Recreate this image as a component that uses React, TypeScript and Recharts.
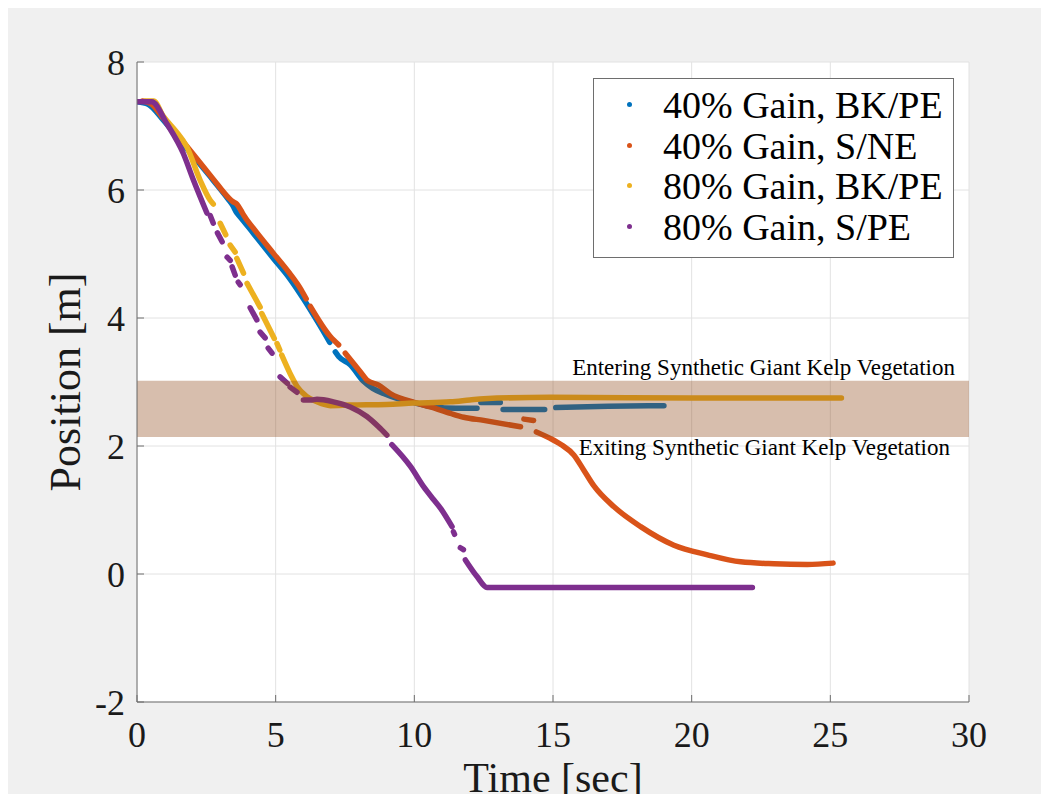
import React from "react";
import {
  ComposedChart,
  Line,
  XAxis,
  YAxis,
  CartesianGrid,
  ReferenceArea,
  ReferenceLine,
  Legend,
} from "recharts";

const SERIF = "'Liberation Serif', 'Times New Roman', Times, serif";
const AXIS_GRAY = "#6e6e6e";
const TEXT = "#1a1a1a";

const xTicks = [0, 5, 10, 15, 20, 25, 30];
const yTicks = [-2, 0, 2, 4, 6, 8];

const seriesNames = [
  "40% Gain, BK/PE",
  "40% Gain, S/NE",
  "80% Gain, BK/PE",
  "80% Gain, S/PE",
];
const seriesColors = ["#0072BD", "#D95319", "#EDB120", "#7E2F8E"];

// kelp vegetation band [m]
const bandLow = 2.14;
const bandHigh = 3.02;
const enteringText = "Entering Synthetic Giant Kelp Vegetation";
const exitingText = "Exiting Synthetic Giant Kelp Vegetation";

const blueT = [0, 0.4, 0.95, 1.5, 2.1, 2.75, 3.3, 3.45, 3.6, 3.72, 4.2, 4.92, 5.5, 6.0, 6.5, 6.95, 7.05, 7.15, 7.27, 7.69, 8.17, 8.5, 8.89, 9.4, 9.86, 10.7, 11.5, 12.26, 12.33, 12.4, 13.1, 13.15, 13.2, 14.7, 14.9, 15.1, 17, 19.0];
const blueY = [7.38, 7.34, 7.09, 6.8, 6.49, 6.15, 5.85, 5.76, 5.64, 5.58, 5.32, 4.93, 4.62, 4.3, 3.95, 3.62, null, 3.47, 3.4, 3.27, 3.01, 2.9, 2.82, 2.74, 2.69, 2.61, 2.59, 2.59, null, 2.68, 2.68, null, 2.57, 2.57, null, 2.6, 2.62, 2.63];

const orangeT = [0.2, 0.5, 0.95, 1.5, 2.1, 2.75, 3.3, 3.45, 3.6, 3.75, 3.84, 4.2, 4.92, 5.5, 5.92, 6.1, 6.15, 6.25, 6.97, 7.27, 7.4, 7.51, 8.05, 8.29, 8.71, 9.13, 10.1, 10.58, 11.3, 11.78, 12.5, 13.83, 13.9, 13.95, 14.3, 14.35, 14.4, 14.9, 15.3, 15.75, 16.1, 16.47, 17.2, 18.16, 19.36, 20.57, 21.77, 22.97, 24.17, 25.1];
const orangeY = [7.39, 7.35, 7.12, 6.84, 6.52, 6.17, 5.88, 5.82, 5.78, 5.68, 5.61, 5.4, 5.01, 4.7, 4.44, 4.3, null, 4.18, 3.71, 3.58, null, 3.45, 3.16, 3.03, 2.95, 2.82, 2.67, 2.61, 2.51, 2.45, 2.4, 2.3, null, 2.42, 2.4, null, 2.22, 2.12, 2.02, 1.86, 1.63, 1.38, 1.05, 0.74, 0.45, 0.3, 0.19, 0.16, 0.15, 0.17];

const yellowT = [0.3, 0.6, 0.95, 1.4, 1.79, 2.27, 2.64, 2.75, 2.85, 3.0, 3.2, 3.28, 3.36, 3.54, 3.57, 3.6, 3.84, 3.9, 3.97, 4.44, 4.47, 4.5, 4.95, 5.0, 5.05, 5.15, 5.18, 5.22, 5.58, 5.77, 6.1, 6.49, 6.97, 7.69, 9.0, 9.97, 11.3, 12.0, 12.5, 14.9, 20, 25.4];
const yellowY = [7.39, 7.39, 7.15, 6.92, 6.68, 6.16, 5.84, 5.78, null, 5.48, 5.3, null, 5.14, 5.03, null, 4.93, 4.7, null, 4.54, 4.17, null, 4.07, 3.68, null, 3.6, 3.5, null, 3.42, 3.08, 2.93, 2.78, 2.69, 2.63, 2.64, 2.65, 2.67, 2.69, 2.72, 2.74, 2.76, 2.75, 2.75];

const purpleT = [0, 0.53, 1.07, 1.67, 2.03, 2.52, 2.55, 2.64, 2.75, 2.8, 2.9, 3.07, 3.15, 3.25, 3.36, 3.4, 3.43, 3.54, 3.6, 3.65, 3.72, 3.9, 4.08, 4.32, 4.38, 4.44, 4.62, 4.68, 4.73, 4.87, 5.0, 5.16, 5.42, 5.47, 5.52, 5.77, 5.9, 6.0, 6.3, 6.49, 7.08, 7.69, 8.29, 8.71, 9.01, 9.1, 9.19, 9.86, 10.34, 10.7, 10.94, 11.36, 11.39, 11.41, 11.45, 11.55, 11.66, 11.77, 11.8, 11.84, 12.26, 12.62, 15, 18, 22.19];
const purpleY = [7.38, 7.38, 7.04, 6.57, 6.16, 5.64, null, 5.6, 5.48, null, 5.33, 5.19, null, 4.95, 4.9, null, 4.8, 4.67, null, 4.56, 4.52, null, 4.16, 3.97, null, 3.78, 3.69, null, 3.53, 3.45, null, 3.08, 2.98, null, 2.92, 2.84, null, 2.72, 2.72, 2.73, 2.69, 2.61, 2.46, 2.3, 2.17, null, 2.02, 1.68, 1.36, 1.16, 1.03, 0.74, null, 0.66, 0.62, null, 0.41, 0.38, null, 0.22, -0.04, -0.21, -0.21, -0.21, -0.21];

const toPoints = (ts: number[], ys: (number | null)[]) =>
  ts.map((t, i) => ({ t, y: ys[i] }));

const tracks = [
  toPoints(blueT, blueY),
  toPoints(orangeT, orangeY),
  toPoints(yellowT, yellowY),
  toPoints(purpleT, purpleY),
];

const LegendBox = ({ payload }: { payload?: Array<{ value: string; color: string }> }) => (
  <div
    style={{
      width: 361,
      height: 180,
      boxSizing: "border-box",
      border: `1px solid ${AXIS_GRAY}`,
      background: "#fff",
      paddingTop: 6,
      fontFamily: SERIF,
      fontSize: 38,
      color: "#000",
    }}
  >
    {(payload || []).map((p) => (
      <div
        key={p.value}
        style={{
          position: "relative",
          height: 40.5,
          lineHeight: "40.5px",
          paddingLeft: 69,
          whiteSpace: "nowrap",
        }}
      >
        <span
          style={{
            position: "absolute",
            left: 33,
            top: 17,
            width: 5,
            height: 5,
            borderRadius: "50%",
            background: p.color,
          }}
        />
        {p.value}
      </div>
    ))}
  </div>
);

const bandLabel = (text: string, above: boolean, right: number) => (props: any) => {
  const { x, y, width } = props.viewBox;
  return (
    <text
      x={x + width - right}
      y={above ? y - 6 : y + 18}
      textAnchor="end"
      fontFamily={SERIF}
      fontSize={23}
      fill="#000"
    >
      {text}
    </text>
  );
};

const xTitle = (props: any) => {
  const { x, y, width } = props.viewBox;
  return (
    <text x={x + width / 2} y={y + 90} textAnchor="middle" fontFamily={SERIF} fontSize={42} fill={TEXT}>
      Time [sec]
    </text>
  );
};

const yTitle = (props: any) => {
  const { x, y, height } = props.viewBox;
  const cx = x + 72;
  const cy = y + height / 2;
  return (
    <text
      x={cx}
      y={cy}
      transform={`rotate(-90, ${cx}, ${cy})`}
      textAnchor="middle"
      fontFamily={SERIF}
      fontSize={44}
      fill={TEXT}
    >
      Position [m]
    </text>
  );
};

const tickStyle = { fontFamily: SERIF, fontSize: 36, fill: TEXT };

export default function App() {
  return (
    <div style={{ width: 1041, height: 794, marginBottom: -8, background: "#f0f0f0", overflow: "hidden" }}>
      <ComposedChart width={1041} height={794} margin={{ top: 54, right: 80, left: 0, bottom: 0 }}>
        <CartesianGrid stroke="#e2e2e2" fill="#fff" />
        <XAxis
          type="number"
          dataKey="t"
          domain={[0, 30]}
          ticks={xTicks}
          interval={0}
          allowDataOverflow
          height={100}
          stroke={AXIS_GRAY}
          tickSize={-7}
          tickMargin={26}
          tick={tickStyle}
          label={{ content: xTitle }}
        />
        <YAxis
          type="number"
          domain={[-2, 8]}
          ticks={yTicks}
          interval={0}
          allowDataOverflow
          width={129}
          stroke={AXIS_GRAY}
          tickSize={-7}
          tickMargin={19}
          tick={tickStyle}
          label={{ content: yTitle }}
        />
        <XAxis
          xAxisId="top"
          orientation="top"
          type="number"
          domain={[0, 30]}
          ticks={xTicks}
          height={0}
          stroke={AXIS_GRAY}
          tickSize={-7}
          tick={false}
        />
        <YAxis
          yAxisId="right"
          orientation="right"
          type="number"
          domain={[-2, 8]}
          ticks={yTicks}
          width={0}
          stroke={AXIS_GRAY}
          tickSize={-7}
          tick={false}
        />
        {tracks.map((data, i) => (
          <Line
            key={seriesNames[i]}
            data={data}
            dataKey="y"
            name={seriesNames[i]}
            type="monotone"
            stroke={seriesColors[i]}
            strokeWidth={5.5}
            strokeLinecap="round"
            strokeLinejoin="round"
            dot={false}
            activeDot={false}
            connectNulls={false}
            isAnimationActive={false}
          />
        ))}
        <ReferenceArea
          y1={bandLow}
          y2={bandHigh}
          fill="#8B4513"
          fillOpacity={0.35}
          stroke="none"
          zIndex={450}
        />
        <ReferenceLine y={bandHigh} stroke="none" label={{ content: bandLabel(enteringText, true, 14) }} />
        <ReferenceLine y={bandLow} stroke="none" label={{ content: bandLabel(exitingText, false, 19) }} />
        <Legend
          layout="vertical"
          align="center"
          verticalAlign="middle"
          content={<LegendBox />}
          wrapperStyle={{ left: 585, top: 70, width: 361, height: 180 }}
        />
      </ComposedChart>
    </div>
  );
}
